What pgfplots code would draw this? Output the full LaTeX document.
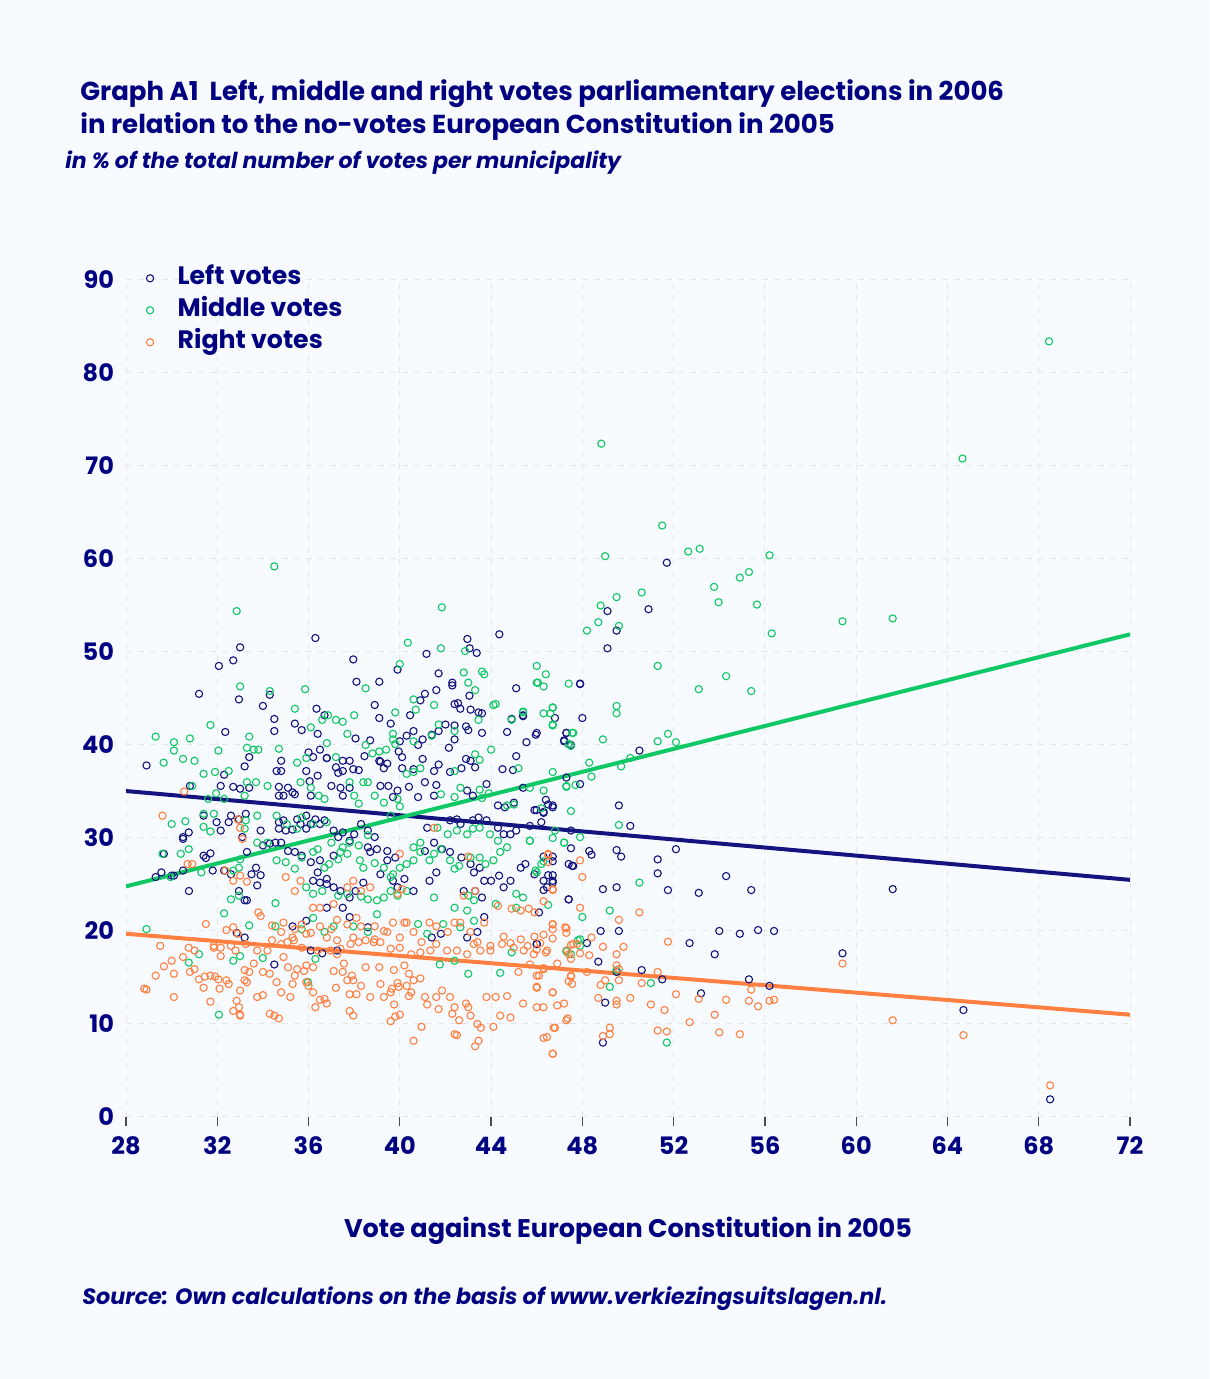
\documentclass[border=0pt]{standalone}
\usepackage{fontspec}
\setmainfont{Poppins}
\usepackage{pgfplots}
\pgfplotsset{compat=1.18}
\definecolor{navytxt}{HTML}{000080}
\definecolor{leftc}{HTML}{14147F}
\definecolor{midc}{HTML}{10C864}
\definecolor{rightc}{HTML}{FF8040}
\definecolor{bgc}{HTML}{F7FAFE}
\definecolor{gridc}{HTML}{E4E6EA}
\begin{document}
\begin{tikzpicture}[x=1pt,y=1pt]
\fill[bgc] (0,0) rectangle (604.5,689.5);
\node[anchor=base west,text=navytxt,font=\bfseries\fontsize{13}{15}\selectfont,inner sep=0pt] at (40,639) {Graph A1\ \ Left, middle and right votes parliamentary elections in 2006};
\node[anchor=base west,text=navytxt,font=\bfseries\fontsize{13}{15}\selectfont,inner sep=0pt] at (40,622.5) {in relation to the no-votes European Constitution in 2005};
\node[anchor=base west,text=navytxt,font=\bfseries\itshape\fontsize{11}{13}\selectfont,inner sep=0pt] at (32.5,605) {in \% of the total number of votes per municipality};
\node[anchor=base,text=navytxt,font=\bfseries\fontsize{12.75}{14}\selectfont,inner sep=0pt] at (314,70.5) {Vote against European Constitution in 2005};
\node[anchor=base west,text=navytxt,font=\bfseries\itshape\fontsize{11.1}{13}\selectfont,inner sep=0pt] at (41,37) {Source: Own calculations on the basis of www.verkiezingsuitslagen.nl.};
\begin{axis}[
  at={(63pt,131pt)}, anchor=south west, scale only axis,
  width=502pt, height=418.5pt,
  xmin=28, xmax=72, ymin=0, ymax=90,
  xtick={28,32,...,72}, ytick={0,10,...,90},
  xtick pos=bottom, ytick pos=left,
  grid=major, grid style={dash pattern=on 3pt off 3pt, draw=gridc, line width=0.5pt},
  axis line style={draw=none},
  tick align=outside, major tick length=4.5pt,
  xtick style={draw=black!70, line width=0.6pt},
  ytick style={draw=none},
  /pgf/number format/assume math mode=true,
  ticklabel style={font=\bfseries\fontsize{12}{14}\selectfont, text=navytxt},
  xticklabel style={yshift=-2pt},
  yticklabel style={xshift=2pt},
  legend style={at={(0.014,1.0216)}, anchor=north west, draw=none, fill=none,
    font=\bfseries\fontsize{12.6}{14}\selectfont, text=navytxt, row sep=4pt,
    nodes={inner sep=0pt, text height=9pt, text depth=3pt},
    /tikz/every odd column/.append style={column sep=12pt}},
  legend cell align=left,
  legend image code/.code={\draw[#1] plot coordinates {(0pt,0pt)};},
  every axis plot/.append style={mark size=1.8pt},
]
\addplot[only marks, mark=o, draw=leftc, mark options={line width=0.55pt}] coordinates {
(36.3,51.5)(44.36,51.9)(33.0,50.5)(32.07,48.5)(32.7,49.1)(37.96,49.2)(42.96,51.4)(43.06,50.4)(43.37,49.9)(41.17,49.8)(39.9,48.1)(31.2,45.5)(32.95,44.9)(34.3,45.4)
(34.0,44.2)(38.1,46.8)(39.1,46.8)(38.9,44.3)(34.5,42.8)(34.5,41.5)(35.4,42.3)(35.7,41.6)(36.35,43.9)(36.7,43.2)(36.4,41.2)(39.1,42.9)(39.6,42.3)(40.45,43.2)(40.9,44.8)(41.1,45.5)(41.6,45.9)(41.7,47.7)(42.3,46.7)(42.3,46.4)(45.1,46.1)(43.05,45.3)(42.4,44.4)(42.55,44.5)(42.65,43.9)(43.1,43.8)(43.45,43.5)(43.6,43.4)(44.9,42.8)(45.4,43.2)(46.8,42.9)(47.9,46.55)(44.7,41.4)(45.55,40.3)(46.0,41.3)(47.3,41.3)(47.2,40.5)(47.4,40.1)(47.5,40.0)(43.6,41.3)(43.0,41.6)(42.9,42.0)(42.15,39.7)(42.0,42.2)(42.4,42.1)(42.4,40.6)(41.7,41.5)(41.4,41.1)(40.8,40.0)(40.3,41.0)(40.6,41.5)(41.0,40.6)(40.0,40.4)(39.95,39.3)(40.1,38.7)(38.06,40.7)(38.7,40.5)(38.45,38.8)(39.15,38.2)(36.0,39.2)(36.2,38.7)(36.5,39.5)(36.8,38.6)(33.4,38.7)(33.2,37.7)(32.35,41.4)(28.9,37.8)(32.3,36.8)(34.8,38.3)(34.6,37.2)(34.8,37.2)(35.9,37.2)(36.4,36.7)(36.8,38.6)(37.3,37.0)(37.5,38.3)(37.8,38.3)(37.96,37.4)(38.2,37.3)(37.2,37.6)(37.5,37.2)(39.3,37.5)(39.45,38.0)(39.1,38.3)(40.1,37.5)(40.6,37.4)(41.0,38.5)(41.5,37.2)(41.7,37.9)(42.2,37.1)(42.7,37.5)(42.9,38.5)(43.1,38.3)(43.3,37.6)(44.5,37.4)(44.96,37.3)(45.1,38.8)
(30.8,35.6)(32.15,35.6)(32.7,35.5)(33.0,35.3)(33.4,35.4)(34.7,35.5)(35.1,35.4)(35.4,34.7)(35.3,34.9)(34.9,34.55)(34.7,34.55)(36.05,36.1)(36.1,34.55)(37.0,35.6)(37.4,35.4)(37.8,35.4)(37.5,34.55)(39.15,35.6)(39.5,35.6)(39.9,35.1)(39.7,34.4)(40.4,35.5)(40.8,34.4)(41.5,34.55)(41.1,36.0)(41.6,35.7)(42.95,35.1)(43.2,34.55)(43.8,35.8)(44.3,33.5)(44.6,33.3)(45.0,33.8)(45.4,35.4)(45.99,33.0)(46.3,32.8)(46.7,33.5)
(31.4,32.4)(31.97,31.7)(32.5,31.7)(32.6,32.4)(32.95,32.0)(33.25,32.6)(32.15,30.8)(33.1,30.1)(33.9,30.8)(34.3,29.4)(34.55,29.5)(34.8,29.5)(30.75,30.6)(30.5,30.1)(30.5,29.9)(29.66,28.3)(30.1,25.95)(30.76,24.3)(31.4,28.1)(31.5,27.85)(31.7,28.35)(31.8,26.5)(32.3,26.5)(32.6,26.1)(33.3,28.5)(33.7,26.8)(33.5,26.1)(33.9,26.0)(29.3,25.8)(29.55,26.3)(30.0,25.95)(30.5,26.5)(32.95,24.3)(33.3,23.3)(33.2,23.3)(33.75,24.9)(32.85,19.8)(33.2,19.3)
(34.7,31.7)(34.9,31.9)(35.5,32.0)(35.9,32.4)(34.7,31.0)(35.0,30.8)(35.3,30.9)(35.65,31.5)(35.9,31.0)(36.1,31.5)(36.3,32.0)(36.5,31.5)(36.7,31.9)(34.0,29.2)(35.1,28.6)(35.4,28.5)(35.7,28.1)(36.1,27.4)(36.4,26.3)(36.8,25.6)(36.5,27.6)(37.1,28.1)(37.1,30.8)(37.3,30.1)(37.5,30.6)(37.8,29.7)(38.0,30.4)(38.3,31.5)(38.6,30.8)(38.9,30.1)(38.6,29.0)(38.7,28.5)(39.0,28.8)(39.45,28.6)(39.8,27.9)(39.45,27.6)(36.2,25.4)(36.5,25.2)(36.8,25.05)(37.1,24.7)(37.4,24.3)(38.06,24.3)(38.4,25.2)(37.8,23.6)(39.15,26.1)(39.7,25.4)(39.9,24.7)(40.2,25.6)(40.6,24.3)(35.3,20.5)(35.9,21.1)(36.8,22.5)(37.5,22.5)(38.6,20.4)(37.8,21.5)
(41.2,31.1)(41.5,29.5)(41.85,28.8)(41.1,28.6)(41.3,25.4)(41.6,26.3)(42.2,28.5)(42.7,27.9)(43.1,27.2)(43.25,26.3)(43.5,26.8)(43.7,25.4)(42.8,24.3)(43.3,24.3)(43.6,23.6)(42.2,31.9)(42.5,32.0)(42.66,31.5)(43.2,31.9)(43.45,32.2)(43.8,31.9)(44.3,31.1)(44.55,30.4)(44.85,30.4)(45.1,30.8)(44.0,25.4)(44.35,25.95)(44.55,24.7)(44.85,25.4)(45.3,26.8)(45.5,27.2)(45.9,26.1)(46.3,25.4)(46.45,24.7)(46.7,25.4)(47.4,23.4)(47.55,27.0)(43.7,21.5)(43.4,19.9)(42.95,19.3)(41.8,19.7)(41.4,19.3)(46.0,18.6)
(34.5,16.4)(36.1,17.9)(36.6,17.6)(37.25,17.9)
(48.0,42.9)(45.96,41.1)(47.3,41.3)(47.2,40.4)(50.5,39.4)(47.3,36.5)(47.9,35.8)(46.4,34.1)(46.5,33.6)(46.7,33.3)(45.9,33.0)(46.3,32.7)(46.2,31.7)(45.7,31.3)(49.6,33.5)(47.5,30.8)(50.1,31.3)(47.5,28.9)(48.3,28.6)(48.4,28.2)(49.5,28.7)(49.7,28.0)(52.1,28.8)(46.3,28.0)(46.7,28.0)(46.7,27.5)(47.4,27.2)(47.6,27.0)(51.3,27.7)(51.3,26.2)(46.5,26.0)(46.7,26.0)(46.7,25.2)(54.3,25.9)(48.9,24.5)(49.5,24.7)(51.75,24.4)(53.1,24.1)(55.4,24.4)(46.3,24.4)(47.4,23.4)(46.1,22.0)(48.8,20.0)(49.6,20.0)(54.0,20.0)(54.9,19.7)(55.7,20.1)(56.4,20.0)(52.7,18.7)(46.0,18.6)(48.2,18.7)(53.8,17.5)(48.7,16.7)(49.5,15.6)(50.6,15.8)(51.5,14.8)(55.3,14.8)(56.2,14.1)(53.2,13.3)(49.0,12.3)(48.9,8.0)
(51.7,59.6)(49.1,54.4)(50.9,54.6)(49.5,52.3)(49.1,50.4)(47.9,46.6)(45.4,43.1)
(59.4,17.6)(61.6,24.5)(64.7,11.5)(68.5,1.9)
};
\addlegendentry{Left votes}
\addplot[only marks, mark=o, draw=midc, mark options={line width=0.55pt}] coordinates {
(68.45,83.4)(48.83,72.4)(64.66,70.8)(51.5,63.6)(49.0,60.3)(52.64,60.8)(53.14,61.1)(56.2,60.4)(34.5,59.2)(53.77,57.0)(54.9,58.0)(55.3,58.6)(53.97,55.35)(55.65,55.1)(49.5,55.9)(48.8,55.0)(50.6,56.4)(48.7,53.2)(49.6,52.8)(48.2,52.3)(59.4,53.3)(61.6,53.6)(56.3,52.0)(51.3,48.5)(46.0,48.5)(46.4,47.6)(46.0,46.7)(46.3,46.3)(47.4,46.6)(53.1,46.0)(54.3,47.4)(55.4,45.8)(49.5,44.2)(49.5,43.4)(46.7,44.0)(46.3,43.4)(46.6,43.4)(45.4,43.5)
(46.7,42.1)(47.6,41.3)(47.4,40.1)(47.5,39.9)(48.9,40.6)(51.3,40.4)(51.75,41.2)(52.1,40.3)(48.3,38.1)(48.4,36.6)(50.1,38.6)(49.7,37.7)(46.7,37.1)(47.3,35.5)(46.3,35.1)(45.7,35.4)(47.5,32.9)(49.6,31.4)(46.7,30.0)(46.8,30.8)(47.2,29.5)(47.9,30.1)(45.7,29.7)(46.3,27.5)(46.0,26.3)(50.5,25.2)(46.5,22.8)(49.2,22.2)(48.0,21.5)(47.9,19.1)(47.9,18.4)(47.3,17.8)(49.5,15.8)(49.2,14.0)(51.0,14.4)(51.7,8.0)
(32.85,54.4)(41.84,54.8)(40.35,51.0)(41.8,50.4)(42.86,50.1)(40.0,48.7)(33.0,46.3)(34.3,45.8)(35.85,46.0)(38.5,46.1)(35.4,43.9)(36.85,43.2)(36.6,42.7)(37.2,42.7)(37.5,42.5)(38.0,43.2)(36.1,41.9)(39.8,43.5)(40.7,43.8)(40.6,44.9)(41.5,44.3)(42.8,47.8)(43.0,46.7)(43.3,45.9)(43.6,47.9)(43.7,47.6)(44.1,44.3)(44.2,44.4)(45.4,43.6)(44.9,42.7)(46.05,46.7)(46.7,44.05)(46.7,42.2)(47.55,41.3)(43.45,42.7)(44.0,39.5)(43.3,39.0)(43.5,38.4)(41.7,42.2)(42.4,41.5)(42.4,37.2)(41.4,41.0)(39.7,41.2)(39.7,40.6)(39.8,40.1)(40.6,40.4)(38.5,40.0)(37.7,41.2)(36.8,40.2)(38.8,39.1)(39.1,39.3)(39.4,39.5)(37.2,38.7)(29.3,40.9)(30.1,40.3)(30.8,40.7)(30.1,39.4)(29.65,38.1)(30.5,38.5)(31.0,38.3)(31.7,42.15)(32.05,39.4)(33.4,40.9)(33.3,39.7)(33.6,39.5)(33.8,39.5)(34.7,39.6)(35.9,38.6)(35.5,38.1)(31.4,36.9)(31.9,37.1)(32.5,37.2)(45.2,37.5)(40.9,37.5)(40.6,37.1)(40.3,36.9)
(30.9,35.6)(33.3,36.0)(33.7,36.0)(33.2,34.55)(31.95,34.8)(31.6,34.2)(32.3,34.2)(34.2,35.6)(35.65,36.0)(36.1,35.4)(36.45,34.55)(36.7,34.2)(37.8,36.0)(38.4,36.0)(38.6,36.0)(38.0,34.55)(38.2,33.7)(38.9,34.55)(39.3,33.8)(39.9,34.2)(40.0,33.4)(39.6,32.4)(41.8,34.7)(42.4,34.4)(42.66,35.4)(43.5,35.2)(43.6,34.3)(43.9,34.8)(44.7,33.5)(45.0,33.6)(46.2,33.2)(47.3,35.6)(47.7,35.7)
(30.0,31.5)(30.6,31.8)(31.4,32.6)(31.85,32.6)(31.4,31.2)(31.7,30.7)(33.25,31.9)(33.2,31.0)(33.75,32.4)(33.75,29.5)(34.2,29.5)(30.75,28.8)(30.4,28.3)(29.6,28.3)(29.95,25.8)(31.3,26.3)(32.7,26.5)(33.0,27.7)(32.95,26.8)(28.9,20.2)(32.6,23.4)(32.95,23.8)(33.4,20.6)(32.3,21.9)(32.7,16.8)(34.55,23.0)
(34.6,32.4)(35.05,31.5)(35.5,31.0)(35.7,32.2)(36.2,31.5)(36.8,31.7)(34.6,27.6)(35.0,27.4)(35.4,26.7)(35.7,27.9)(36.2,28.5)(36.4,28.8)(36.7,26.8)(36.9,27.2)(37.3,27.7)(37.4,28.5)(37.7,28.3)(37.0,29.5)(37.5,29.0)(37.8,29.5)(38.2,29.2)(38.6,30.3)(38.25,27.6)(38.4,26.8)(38.9,27.3)(39.3,26.8)(39.6,25.8)(39.7,26.1)(40.0,26.8)(40.3,27.2)(40.6,27.6)
(35.9,24.7)(36.2,24.0)(36.6,24.3)(37.3,23.8)(37.7,24.0)(38.3,23.7)(38.6,23.4)(39.0,23.3)(39.3,23.6)(39.6,24.3)(39.9,23.8)(40.3,24.3)(34.55,20.5)(35.7,20.2)(36.2,21.4)(36.7,19.9)(37.1,20.5)(37.96,20.5)(38.6,19.9)(39.0,21.8)
(40.9,28.5)(41.3,27.6)(41.5,28.3)(41.8,28.8)(42.2,27.6)(42.4,26.7)(42.6,27.0)(43.1,27.9)(43.5,27.9)(43.75,27.2)(40.6,29.0)(40.9,29.5)(41.65,31.1)(42.1,30.4)(42.5,30.8)(42.95,30.4)(43.2,31.0)(43.5,31.1)(43.95,30.4)(44.3,29.7)(44.7,29.0)(44.4,28.5)(44.1,27.6)(45.95,26.5)(46.2,27.2)(47.2,29.5)(45.7,29.7)(45.1,24.0)(45.4,23.6)(44.2,22.9)(45.1,22.5)(43.0,23.8)(43.25,23.3)(42.95,22.2)(42.4,22.5)(43.25,21.1)(42.65,20.4)(41.9,20.75)(41.5,23.6)(41.2,19.7)(40.8,20.75)
(32.07,11.0)(30.75,16.6)(31.2,17.5)(33.0,17.3)(34.0,17.1)(35.97,14.5)(36.3,17.0)(44.4,15.5)(43.0,15.4)(41.75,16.4)(42.4,16.8)(44.9,17.7)(47.3,17.9)(47.5,17.5)(47.8,19.0)
};
\addlegendentry{Middle votes}
\addplot[only marks, mark=o, draw=rightc, mark options={line width=0.55pt}] coordinates {
(30.55,35.0)(29.6,32.4)(32.9,32.0)(33.0,31.1)(33.1,29.9)(30.7,27.2)(30.9,27.2)(32.35,26.5)(32.7,25.4)(33.0,25.95)(33.3,25.3)(31.5,20.75)(32.4,20.1)(32.7,20.4)(32.9,19.7)(33.8,22.0)(33.9,21.6)
(35.0,25.8)(35.4,24.3)(35.65,25.4)(36.2,22.5)(36.5,22.5)(37.1,22.9)(37.7,24.7)(37.96,25.4)(38.3,24.3)(38.7,24.7)
(34.4,20.6)(34.9,20.9)(35.4,20.2)(35.7,20.7)(36.1,19.8)(36.5,20.5)(37.0,20.2)(37.25,21.2)(37.7,20.7)(38.1,21.4)(38.3,20.5)(38.9,20.5)(39.3,20.0)(39.7,20.9)(40.2,20.9)
(34.8,19.9)(35.3,19.3)(35.9,19.7)(36.8,19.3)(37.25,19.0)(37.96,19.3)(38.9,19.1)(39.45,19.9)(40.0,19.3)
(40.0,28.3)(39.9,24.0)(40.1,24.5)(41.5,31.1)(43.0,28.0)(43.3,24.3)(42.8,23.8)
(44.9,22.4)(45.3,22.2)(45.65,22.4)(45.9,22.0)(46.7,20.75)(47.25,20.4)(47.6,18.6)(46.5,28.3)(46.5,27.4)(46.7,24.5)(44.3,22.7)
(40.3,20.9)(40.6,19.9)(40.95,18.8)(41.3,20.9)(41.6,20.5)(42.1,19.9)(42.4,20.9)(42.65,20.9)(43.1,19.9)(43.4,18.8)(43.7,20.9)(43.97,18.4)(44.55,19.4)(44.85,18.7)(45.3,19.1)(45.6,18.4)(46.15,18.7)(46.7,20.2)(47.3,19.8)
(28.9,13.7)(29.3,15.2)(29.66,16.2)(30.0,16.8)(30.1,15.4)(30.1,12.9)(30.5,17.2)(30.75,18.2)(30.8,15.6)(31.0,17.9)(31.0,15.9)(31.2,14.8)(31.45,15.1)(31.4,13.9)(31.7,12.4)(31.7,15.2)(31.9,15.1)(32.05,14.8)(32.1,13.8)(32.4,14.7)(32.5,14.3)(31.85,18.2)(32.15,17.3)
(32.7,11.4)(32.85,12.5)(33.0,13.6)(32.95,11.8)(33.0,10.9)(33.0,11.0)(33.2,14.7)(33.3,14.5)(33.4,15.6)(33.2,15.8)(33.6,16.5)
(33.75,12.9)(34.0,13.1)(34.0,15.6)(34.3,15.4)(34.3,11.1)(34.5,10.9)(34.7,10.6)(34.6,14.5)(34.8,13.4)(35.2,12.9)(35.3,14.3)(35.4,15.2)(35.5,15.9)(35.1,16.1)(34.9,17.2)
(35.8,15.7)(35.9,16.3)(36.0,14.1)(36.2,13.4)(36.3,11.8)(36.5,12.6)(36.7,12.7)(36.8,12.2)(37.2,13.9)(35.9,14.5)(36.2,16.1)
(37.1,15.7)(37.5,15.6)(37.7,14.7)(37.9,15.2)(37.96,14.7)(38.1,13.2)(38.3,14.1)(37.8,11.4)(37.96,10.9)(37.8,13.2)(37.25,17.5)(37.55,16.5)
(38.5,16.1)(38.7,12.9)(39.1,16.1)(39.15,14.3)(39.3,12.9)(39.6,13.4)(39.65,13.8)(39.75,12.1)(39.9,14.4)(39.95,14.0)(40.0,11.0)(39.8,10.8)(39.6,10.3)(40.3,14.1)(40.4,13.0)(40.5,13.4)(40.6,8.2)
(39.74,15.8)(40.2,16.3)(40.4,15.4)(40.6,14.7)(40.9,14.9)(40.95,9.7)(41.1,12.9)(41.2,12.1)(41.6,12.9)(41.7,11.6)(41.85,13.6)(42.2,12.9)(42.4,11.8)(42.3,11.1)(42.4,8.9)(42.5,8.8)(42.6,10.4)(42.9,12.2)(43.0,11.8)(43.1,10.9)(43.4,10.0)(43.55,9.6)(43.3,7.6)(43.45,8.2)(43.8,12.9)(44.1,9.7)(44.2,12.9)
(44.4,10.9)(44.7,13.0)(44.85,10.7)(45.2,15.6)(45.4,12.2)(46.0,13.9)(46.1,15.2)(46.3,15.9)(46.3,11.8)(46.45,8.6)(46.7,13.4)(46.74,9.6)(46.7,6.8)(47.2,12.2)(47.35,10.6)(47.5,15.1)(47.55,14.3)
(31.85,18.4)(32.15,18.2)(32.6,18.4)(32.8,17.9)(33.25,18.6)(33.75,17.9)(34.2,17.9)(34.4,19.0)(34.8,18.6)(35.07,18.8)(35.36,19.0)(35.7,18.2)(36.4,17.9)(36.96,17.9)(37.4,18.1)(37.84,18.6)(38.2,18.8)(38.5,19.0)(38.86,18.8)(39.15,18.8)(39.6,18.1)(40.0,18.2)(40.5,17.5)(40.9,17.7)(41.34,17.9)(41.6,18.6)(42.07,17.9)(42.5,17.9)(42.95,17.5)(43.24,18.6)(43.53,17.9)(43.97,17.9)(44.48,18.6)(44.99,18.2)(45.43,17.9)(45.87,17.5)(46.45,17.9)(46.9,16.5)(47.33,17.9)(47.77,18.6)
(28.8,13.8)(29.5,18.4)
(46.5,28.2)(47.9,27.6)(48.0,25.8)(46.7,24.4)(46.3,23.2)(47.9,22.5)(50.5,22.0)(49.6,21.2)(46.7,20.7)(47.3,20.3)(45.9,19.4)(46.3,19.6)(46.7,19.2)(48.4,19.3)(51.75,18.85)
(46.0,18.0)(46.4,17.7)(47.5,18.5)(47.4,17.5)(47.5,17.0)(47.9,17.6)(48.3,17.4)(48.9,18.3)(49.8,18.3)(49.5,17.5)
(49.5,16.3)(49.6,15.9)(49.6,14.7)(49.0,14.7)(48.8,14.2)(48.7,12.8)(49.5,12.5)(49.5,12.1)(50.1,12.8)(48.2,15.6)(51.3,15.6)
(45.7,16.4)(46.3,16.0)(46.0,15.2)(47.5,15.2)(47.4,14.6)(46.0,14.0)(46.7,13.4)(50.6,14.4)(52.1,13.2)(51.0,12.1)(51.6,11.5)
(53.1,12.7)(54.3,12.6)(55.3,12.5)(55.4,13.7)(55.7,11.9)(56.2,12.5)(56.4,12.6)
(46.0,11.8)(46.9,12.0)(47.3,10.4)(46.8,9.6)(46.3,8.5)(46.7,6.8)
(53.8,11.0)(52.7,10.2)(54.0,9.1)(54.9,8.9)(51.3,9.3)(51.7,9.2)(49.2,9.6)(49.2,8.9)(48.9,8.7)
(59.4,16.5)(61.6,10.4)(64.7,8.8)(68.5,3.4)
};
\addlegendentry{Right votes}
\addplot[leftc, line width=2pt, no marks, forget plot] coordinates {(28,35.05)(72,25.5)};
\addplot[midc, line width=2pt, no marks, forget plot] coordinates {(28,24.8)(72,51.9)};
\addplot[rightc, line width=2pt, no marks, forget plot] coordinates {(28,19.7)(72,11.0)};
\end{axis}
\end{tikzpicture}
\end{document}
